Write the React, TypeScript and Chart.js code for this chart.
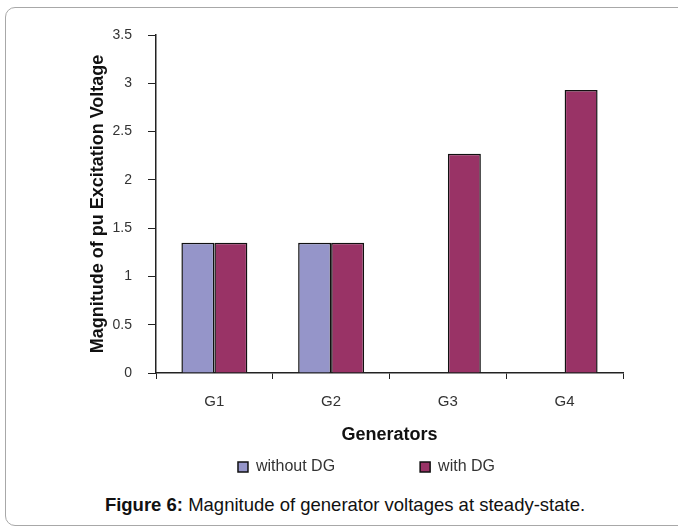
import React, { useEffect, useRef } from 'react';
import { Chart, registerables } from 'chart.js';

Chart.register(...registerables);

const categories = ['G1', 'G2', 'G3', 'G4'];
const seriesNames = ['without DG', 'with DG'];
const withoutDG = [1.35, 1.35, 0, 0];
const withDG = [1.35, 1.35, 2.27, 2.93];
const yTickValues = [0, 0.5, 1, 1.5, 2, 2.5, 3, 3.5];
const yTitle = 'Magnitude of pu Excitation Voltage';
const xTitle = 'Generators';
const captionBold = 'Figure 6:';
const captionText = ' Magnitude of generator voltages at steady-state.';

const FONT = '"Liberation Sans", Arial, Helvetica, sans-serif';
const AXIS = '#222222';

export default function App() {
  const canvasRef = useRef<HTMLCanvasElement | null>(null);

  useEffect(() => {
    const canvas = canvasRef.current;
    if (!canvas) return;
    const chart = new Chart(canvas, {
      type: 'bar',
      data: {
        labels: categories,
        datasets: [
          {
            label: seriesNames[0],
            data: withoutDG,
            backgroundColor: '#9595C9',
            borderColor: '#111111',
            borderWidth: 1.5,
          },
          {
            label: seriesNames[1],
            data: withDG,
            backgroundColor: '#993366',
            borderColor: '#111111',
            borderWidth: 1.5,
          },
        ],
      },
      options: {
        responsive: false,
        animation: false,
        datasets: {
          bar: { barPercentage: 1, categoryPercentage: 0.565 },
        },
        layout: { padding: { left: 110, right: 55, top: 35, bottom: 0 } },
        plugins: {
          legend: {
            position: 'bottom',
            title: {
              display: true,
              text: '',
              font: { family: FONT, size: 12 },
              padding: { top: 0, bottom: -53.4 },
            },
            labels: {
              boxWidth: 10,
              boxHeight: 10,
              padding: 85,
              color: '#333',
              font: { family: FONT, size: 16 },
            },
          },
          tooltip: { enabled: false },
        },
        scales: {
          x: {
            afterFit: (s: any) => {
              s.height = 40;
            },
            grid: {
              drawOnChartArea: false,
              drawTicks: true,
              tickLength: 6,
              color: AXIS,
              offset: true,
            },
            border: { color: AXIS, width: 1.5 },
            ticks: {
              padding: 14,
              color: '#333',
              maxRotation: 0,
              font: { family: FONT, size: 15 },
            },
            title: {
              display: true,
              text: xTitle,
              color: '#111',
              font: { family: FONT, size: 18, weight: 'bold' },
              padding: { top: 0, bottom: -33 },
            },
          },
          y: {
            min: yTickValues[0],
            max: yTickValues[yTickValues.length - 1],
            afterFit: (s: any) => {
              s.width = 46;
            },
            afterBuildTicks: (s: any) => {
              s.ticks = yTickValues.map((v) => ({ value: v }));
            },
            grid: {
              drawOnChartArea: false,
              drawTicks: true,
              tickLength: 8,
              color: AXIS,
            },
            border: { color: AXIS, width: 1.5 },
            ticks: {
              padding: 16,
              color: '#333',
              font: { family: FONT, size: 14 },
              callback: (v: any) => String(v),
            },
            title: {
              display: true,
              text: yTitle,
              color: '#111',
              font: { family: FONT, size: 18, weight: 'bold' },
              padding: { top: -23, bottom: 0 },
            },
          },
        },
      },
    });
    return () => chart.destroy();
  }, []);

  return (
    <div
      style={{
        position: 'fixed',
        left: 0,
        top: 0,
        width: 678,
        height: 528,
        overflow: 'hidden',
        background: '#ffffff',
      }}
    >
      <div
        style={{
          position: 'absolute',
          left: 5,
          top: 7,
          width: 700,
          height: 519,
          boxSizing: 'border-box',
          border: '1px solid #a8a8a8',
          borderRadius: 10,
        }}
      />
      <canvas
        ref={canvasRef}
        width={678}
        height={485}
        style={{ position: 'absolute', left: 0, top: 0, width: 678, height: 485 }}
      />
      <div
        style={{
          position: 'absolute',
          left: 0,
          top: 496,
          width: 690,
          textAlign: 'center',
          fontFamily: FONT,
          fontSize: 18.5,
          lineHeight: '18px',
          color: '#111',
          whiteSpace: 'nowrap',
        }}
      >
        <b>{captionBold}</b>
        {captionText}
      </div>
    </div>
  );
}
